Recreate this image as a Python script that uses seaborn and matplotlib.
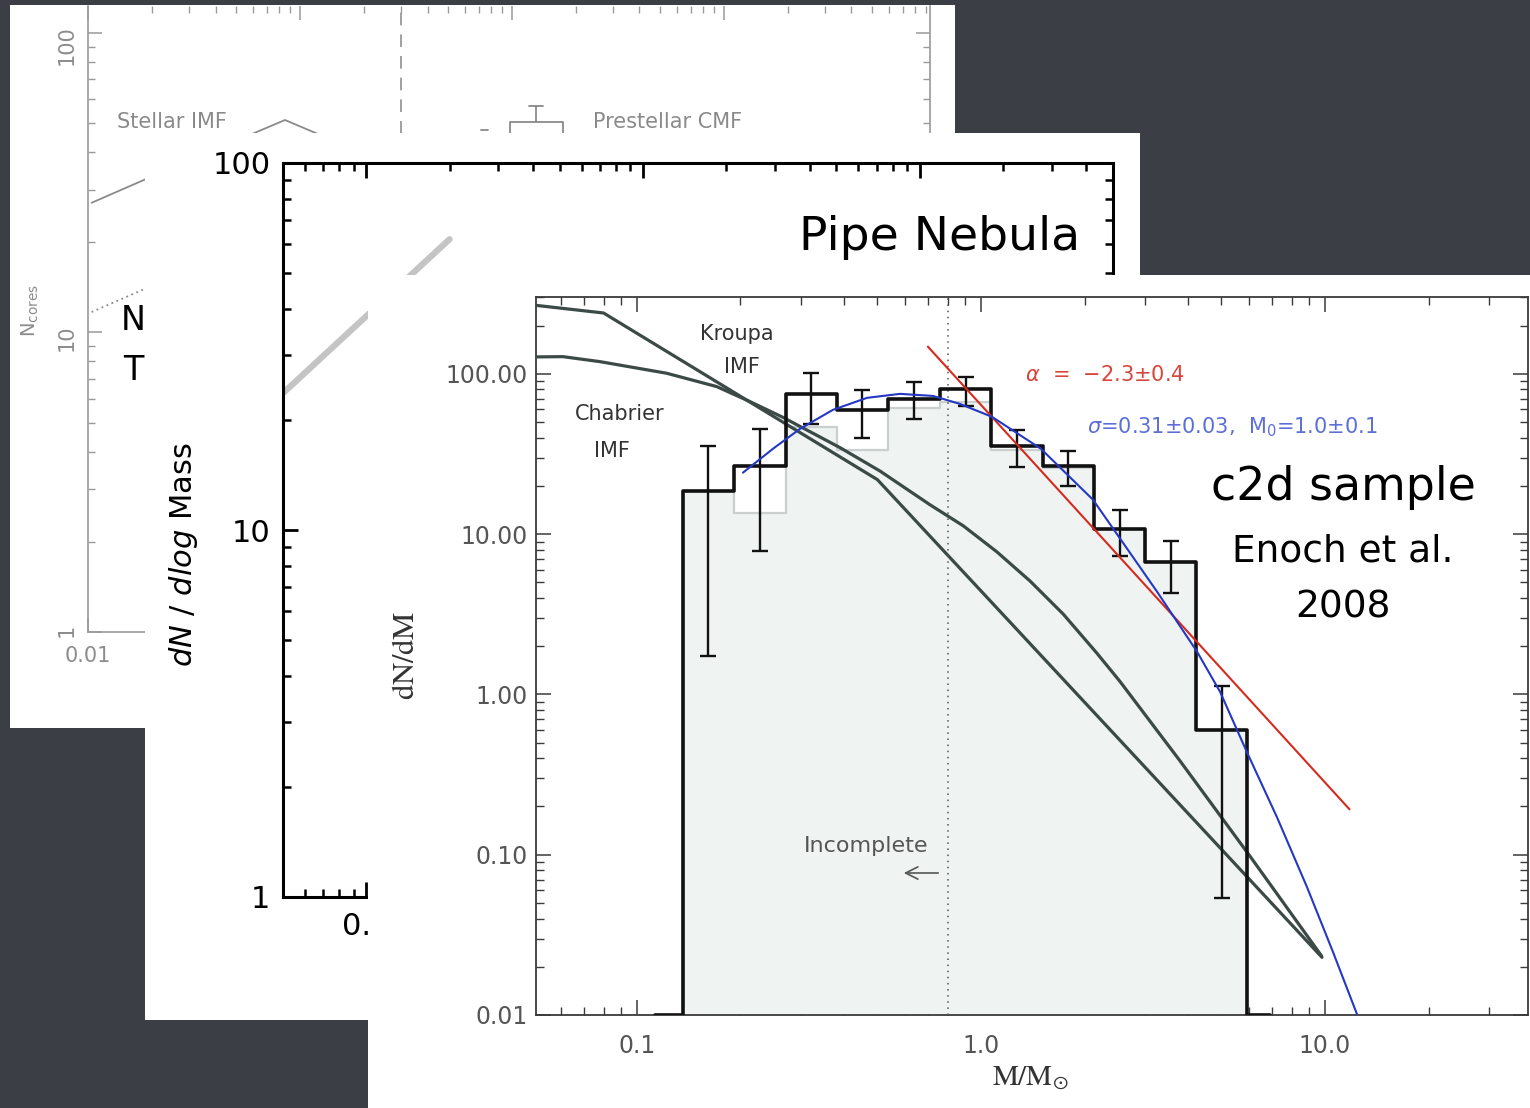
import numpy as np
import matplotlib
matplotlib.use("Agg")
import matplotlib.pyplot as plt
from matplotlib.ticker import LogLocator, NullFormatter
import seaborn as sns

sns.set_style("ticks")
plt.rcParams["font.family"] = ["DejaVu Sans"]
plt.rcParams["mathtext.fontset"] = "dejavusans"

# ---------------- data ----------------
# main panel: c2d sample (Enoch et al. 2008)
bin_edges = [0.136, 0.191, 0.271, 0.381, 0.537, 0.760, 1.07, 1.51, 2.13, 3.00, 4.22, 5.93]
c2d_counts = [18.7, 26.7, 75.0, 59.7, 70.0, 80.3, 35.6, 26.8, 10.8, 6.7, 0.60]
ref_counts = [18.7, 13.5, 46.5, 33.6, 61.1, 66.5, 33.5, 26.0, 10.8, 6.7, 0.60]
err_hi = [35.6, 45.2, 101.0, 79.5, 88.5, 96.2, 44.4, 33.1, 14.2, 9.1, 1.13]
err_lo = [1.73, 7.8, 48.5, 40.0, 52.2, 63.2, 26.1, 19.9, 7.3, 4.3, 0.054]
floor_edges = [0.113, 6.92]          # empty bins drawn on the axis floor

kroupa_m = [0.05, 0.08, 0.5, 9.8]
kroupa_v = [269.0, 240.0, 21.9, 0.0229]
chab_m = [0.0509, 0.0609, 0.0781, 0.122, 0.1705, 0.2131, 0.2657, 0.3892, 0.5085,
          0.7108, 0.8882, 1.1108, 1.3879, 1.735, 2.1695, 2.5357, 3.789, 6.053, 9.78]
chab_v = [127.7, 128.2, 119.3, 101.0, 83.4, 67.2, 53.6, 34.7, 24.8,
          15.27, 11.28, 7.78, 5.11, 3.17, 1.816, 1.205, 0.385, 0.0979, 0.0233]
lognorm_m = [0.2033, 0.2485, 0.2977, 0.3713, 0.4663, 0.5815, 0.7252, 0.869, 1.0764,
             1.494, 2.117, 3.249, 4.246, 4.953, 5.934, 7.254, 8.867, 10.55, 12.39]
lognorm_v = [24.2, 34.1, 45.4, 59.7, 70.9, 75.1, 72.9, 65.0, 54.0,
             34.1, 16.4, 4.38, 1.85, 1.04, 0.435, 0.171, 0.0627, 0.0247, 0.0101]
powerlaw_m = [0.701, 11.78]
powerlaw_v = [148.0, 0.192]
complete_mass = 0.8

# middle panel: Pipe Nebula
pipe_m = [0.05, 0.2]
pipe_v = [23.6, 62.0]

# back panel: stellar IMF vs prestellar CMF
back_m = [0.0104, 0.05]
back_solid_v = [27.1, 44.0]
back_dot_v = [11.7, 19.0]
back_split_mass = 0.3

# ---------------- layout helpers ----------------
W, H = 1530, 1108
fig = plt.figure(figsize=(W / 100, H / 100), dpi=100)
fig.patch.set_facecolor("#3b3e45")


def rect(x0, y0, x1, y1):
    return [x0 / W, 1 - y1 / H, (x1 - x0) / W, (y1 - y0) / H]


def fxy(px, py):
    return (px / W, 1 - py / H)


def panel_bg(x0, y0, x1, y1):
    a = fig.add_axes(rect(x0, y0, x1, y1))
    a.set_facecolor("white")
    a.set_xticks([])
    a.set_yticks([])
    for s in a.spines.values():
        s.set_visible(False)
    return a


def ftext(ax, px, py, s, **kw):
    x, y = fxy(px, py)
    kw.setdefault("ha", "center")
    kw.setdefault("va", "center")
    return ax.text(x, y, s, transform=fig.transFigure, **kw)


def log_minor(ax):
    for axis in (ax.xaxis, ax.yaxis):
        axis.set_minor_locator(LogLocator(base=10, subs=np.arange(2, 10), numticks=100))
        axis.set_minor_formatter(NullFormatter())


# ================= panel 1 (back) =================
panel_bg(10, 5, 955, 728)
ax1 = fig.add_axes(rect(88, 6, 930, 632))
ax1.set_xscale("log")
ax1.set_yscale("log")
ax1.set_xlim(0.01, 94)
ax1.set_ylim(1, 123)
ax1.patch.set_alpha(0)
log_minor(ax1)
g1 = "#9a9a9a"
for s in ax1.spines.values():
    s.set_color(g1)
    s.set_linewidth(1.2)
ax1.spines["top"].set_visible(False)
ax1.tick_params(which="both", direction="in", top=True, right=True, color=g1,
                labelcolor="#8c8c8c", labelsize=15)
ax1.tick_params(which="major", length=10, width=1.1)
ax1.tick_params(which="minor", length=5, width=1.0)
ax1.set_yticks([1, 10, 100], labels=["1", "10", "100"])
ax1.tick_params(axis="y", labelrotation=90, pad=8)
ax1.set_xticks([0.01, 0.1, 1, 10], labels=["0.01", "0.1", "1", "10"])
ax1.tick_params(axis="x", pad=10)
sns.lineplot(x=back_m, y=back_solid_v, ax=ax1, color="#8a8a8a", lw=1.3,
             estimator=None, sort=False)
sns.lineplot(x=back_m, y=back_dot_v, ax=ax1, color="#8a8a8a", lw=1.3,
             linestyle=(0, (1, 2)), estimator=None, sort=False)
ax1.axvline(back_split_mass, color="#999999", lw=1.3, ls=(0, (7, 5)))
ftext(ax1, 172, 122, "Stellar IMF", color="#8a8a8a", fontsize=15)
ftext(ax1, 668, 122, "Prestellar CMF", color="#8a8a8a", fontsize=15)
# legend glyphs
gx, gy = zip(*[fxy(252, 134), fxy(285, 120), fxy(318, 134)])
ax1.plot(gx, gy, transform=fig.transFigure, color="#8a8a8a", lw=1.3, clip_on=False)
bx, by = zip(*[fxy(510, 140), fxy(510, 122), fxy(563, 122), fxy(563, 140)])
ax1.plot(bx, by, transform=fig.transFigure, color="#8a8a8a", lw=1.3, clip_on=False)
ex, ey = zip(*[fxy(536, 122), fxy(536, 106)])
ax1.plot(ex, ey, transform=fig.transFigure, color="#8a8a8a", lw=1.3, clip_on=False)
cx, cy = zip(*[fxy(529, 106), fxy(543, 106)])
ax1.plot(cx, cy, transform=fig.transFigure, color="#8a8a8a", lw=1.3, clip_on=False)
dx, dy = zip(*[fxy(481, 130), fxy(488, 130)])
ax1.plot(dx, dy, transform=fig.transFigure, color="#8a8a8a", lw=1.3, clip_on=False)
ftext(ax1, 30, 310, r"N$_{\rm cores}$", color="#8c8c8c", fontsize=14, rotation=90)
ftext(ax1, 133, 320, "N", color="black", fontsize=24)
ftext(ax1, 133, 370, "T", color="black", fontsize=24)

# ================= panel 2 (Pipe Nebula) =================
panel_bg(145, 133, 1140, 1020)
ax2 = fig.add_axes(rect(283, 163, 1113, 897))
ax2.set_xscale("log")
ax2.set_yscale("log")
ax2.set_xlim(0.05, 50)
ax2.set_ylim(1, 100)
ax2.patch.set_alpha(0)
log_minor(ax2)
for s in ax2.spines.values():
    s.set_color("black")
    s.set_linewidth(2.2)
ax2.tick_params(which="both", direction="in", top=True, right=True, color="black",
                labelcolor="black", labelsize=22)
ax2.tick_params(which="major", length=11, width=2)
ax2.tick_params(which="minor", length=6, width=1.8)
ax2.set_yticks([1, 10, 100], labels=["1", "10", "100"])
ax2.set_xticks([0.1, 1, 10], labels=["0.1", "1", "10"])
ax2.tick_params(axis="y", pad=9)
ax2.tick_params(axis="x", pad=11)
sns.lineplot(x=pipe_m, y=pipe_v, ax=ax2, color="#c4c4c4", lw=4.5,
             estimator=None, sort=False)
ftext(ax2, 183, 555, r"$dN$ / $dlog$ Mass", fontsize=22, rotation=90, color="black")
ftext(ax2, 940, 238, "Pipe Nebula", fontsize=34, color="black")

# ================= panel 3 (c2d sample) =================
panel_bg(368, 275, 1530, 1108)
ax3 = fig.add_axes(rect(536, 297, 1528, 1015))
ax3.set_xscale("log")
ax3.set_yscale("log")
ymin = 0.01
ax3.set_xlim(0.0509, 38.9)
ax3.set_ylim(ymin, 302)
ax3.patch.set_alpha(0)
log_minor(ax3)
for s in ax3.spines.values():
    s.set_color("#3a3a3a")
    s.set_linewidth(1.3)
ax3.tick_params(which="both", direction="in", top=True, right=True, color="#3a3a3a",
                labelcolor="#555555", labelsize=17)
ax3.tick_params(which="major", length=11, width=1.1)
ax3.tick_params(which="minor", length=5.5, width=1.0)
ax3.set_yticks([0.01, 0.1, 1, 10, 100], labels=["0.01", "0.10", "1.00", "10.00", "100.00"])
ax3.set_xticks([0.1, 1, 10], labels=["0.1", "1.0", "10.0"])
ax3.tick_params(axis="y", pad=6)
ax3.tick_params(axis="x", pad=14)

# reference histogram (filled, light)
ref_step_v = ref_counts + [ref_counts[-1]]
ax3.fill_between(bin_edges, ref_step_v, ymin, step="post", color="#eff3f1", lw=0, zorder=1)
sns.lineplot(x=bin_edges, y=ref_step_v, ax=ax3, drawstyle="steps-post", color="#c9d0cf",
             lw=1.6, estimator=None, sort=False, zorder=2)
ax3.vlines([bin_edges[0], bin_edges[-1]], ymin, [ref_counts[0], ref_counts[-1]],
           color="#c9d0cf", lw=1.6, zorder=2)

# IMF curves
sns.lineplot(x=kroupa_m, y=kroupa_v, ax=ax3, color="#3b4a47", lw=2.3,
             estimator=None, sort=False, zorder=3)
sns.lineplot(x=chab_m, y=chab_v, ax=ax3, color="#3b4a47", lw=2.3,
             estimator=None, sort=False, zorder=3)

# c2d histogram (black steps)
step_x = [floor_edges[0]] + bin_edges + [floor_edges[1]]
step_y = [ymin] + c2d_counts + [ymin, ymin]
sns.lineplot(x=step_x, y=step_y, ax=ax3, drawstyle="steps-post", color="#111111",
             lw=2.6, estimator=None, sort=False, zorder=4)
centers = [np.sqrt(a * b) for a, b in zip(bin_edges[:-1], bin_edges[1:])]
yerr = [[c - lo for c, lo in zip(c2d_counts, err_lo)],
        [hi - c for c, hi in zip(c2d_counts, err_hi)]]
ax3.errorbar(centers, c2d_counts, yerr=yerr, fmt="none", ecolor="#111111",
             elinewidth=1.7, capsize=5.5, capthick=1.7, zorder=4)

# fits
sns.lineplot(x=powerlaw_m, y=powerlaw_v, ax=ax3, color="#d62a1e", lw=1.5,
             estimator=None, sort=False, zorder=5)
sns.lineplot(x=lognorm_m, y=lognorm_v, ax=ax3, color="#2438c4", lw=1.5,
             estimator=None, sort=False, zorder=5)

ax3.axvline(complete_mass, color="#555555", lw=1.1, ls=(0, (1, 3)), zorder=3)

# annotations
ftext(ax3, 737, 334, "Kroupa", fontsize=15, color="#333333")
ftext(ax3, 742, 367, "IMF", fontsize=15, color="#333333")
ftext(ax3, 620, 414, "Chabrier", fontsize=15, color="#333333")
ftext(ax3, 612, 451, "IMF", fontsize=15, color="#333333")
ftext(ax3, 1105, 375, r"$\alpha$  =  $-$2.3$\pm$0.4", fontsize=15, color="#d8453a")
ftext(ax3, 1232, 427, r"$\sigma$=0.31$\pm$0.03,  M$_0$=1.0$\pm$0.1", fontsize=15,
      color="#5b6fd6")
ftext(ax3, 1343, 488, "c2d sample", fontsize=33, color="black")
ftext(ax3, 1343, 551, "Enoch et al.", fontsize=27, color="black")
ftext(ax3, 1343, 607, "2008", fontsize=27, color="black")
ftext(ax3, 866, 846, "Incomplete", fontsize=16, color="#555555")
ax3.annotate("", xy=fxy(901, 873), xytext=fxy(941, 873), xycoords="figure fraction",
             textcoords="figure fraction",
             arrowprops=dict(arrowstyle="->", color="#555555", lw=1.2,
                             mutation_scale=22))
ftext(ax3, 405, 655, r"$\mathrm{dN/dM}$", fontsize=22, rotation=90, color="#333333",
      math_fontfamily="stix")
ftext(ax3, 1030, 1078, r"$\mathrm{M/M_{\odot}}$", fontsize=21, color="#333333",
      math_fontfamily="stix")

fig.savefig("out.png", dpi=100, facecolor=fig.get_facecolor())
